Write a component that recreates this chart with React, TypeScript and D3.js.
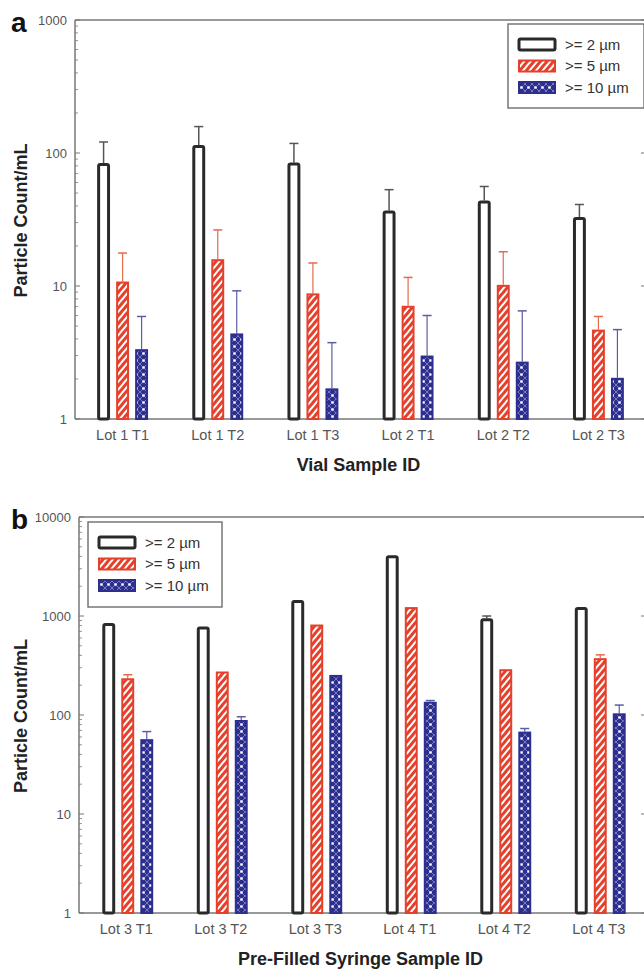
import React from 'react';
import * as d3 from 'd3';

// ---------- data ----------
const seriesKeys = ['ge2', 'ge5', 'ge10'];
const seriesLabels = ['>= 2 \u00b5m', '>= 5 \u00b5m', '>= 10 \u00b5m'];

const vialCategories = ['Lot 1 T1', 'Lot 1 T2', 'Lot 1 T3', 'Lot 2 T1', 'Lot 2 T2', 'Lot 2 T3'];
const vialGe2 = [84, 115, 85, 37, 44, 33];
const vialGe2Upper = [121, 158, 118, 53, 56, 41];
const vialGe5 = [10.8, 15.9, 8.8, 7.1, 10.2, 4.7];
const vialGe5Upper = [17.7, 26.4, 14.9, 11.6, 18.1, 5.9];
const vialGe10 = [3.35, 4.4, 1.7, 3.0, 2.7, 2.04];
const vialGe10Upper = [5.9, 9.2, 3.75, 6.0, 6.5, 4.7];
const vialTicks = [1, 10, 100, 1000];

const syrCategories = ['Lot 3 T1', 'Lot 3 T2', 'Lot 3 T3', 'Lot 4 T1', 'Lot 4 T2', 'Lot 4 T3'];
const syrGe2 = [850, 785, 1450, 4100, 950, 1230];
const syrGe2Upper = [850, 785, 1450, 4100, 1000, 1230];
const syrGe5 = [235, 275, 820, 1230, 290, 375];
const syrGe5Upper = [255, 275, 820, 1230, 290, 405];
const syrGe10 = [57, 89, 254, 136, 68, 104];
const syrGe10Upper = [68, 96, 254, 140, 73, 126];
const syrTicks = [1, 10, 100, 1000, 10000];

const RED = '#e4402b';
const BLUE = '#2d2f8e';
const DARK = '#2a2a2a';
const AXIS = '#777';
const FONT = 'Liberation Sans, Arial, Helvetica, sans-serif';

type PanelProps = {
  letter: string;
  cats: string[];
  means: number[][];
  uppers: number[][];
  ticks: number[];
  x0: number; x1: number; yTop: number; yBottom: number;
  xTitle: string;
  legend: { x: number; y: number; w: number; h: number };
  innerShift: number;
};

function Swatch({ k, x, y, w, h }: { k: string; x: number; y: number; w: number; h: number }) {
  if (k === 'ge2') return <rect x={x} y={y} width={w} height={h} fill="#fff" stroke={DARK} strokeWidth={3} rx={1.5} />;
  if (k === 'ge5') return <rect x={x} y={y} width={w} height={h} fill="url(#hatchRed)" stroke={RED} strokeWidth={2} />;
  return <rect x={x} y={y} width={w} height={h} fill="url(#dotBlue)" stroke={BLUE} strokeWidth={2} />;
}

function Panel(p: PanelProps) {
  const y = d3.scaleLog().domain([p.ticks[0], p.ticks[p.ticks.length - 1]]).range([p.yBottom, p.yTop]);
  const x = d3.scaleBand<string>().domain(p.cats).range([p.x0, p.x1]);
  const inner = d3.scaleBand<string>().domain(seriesKeys).range([-28.5, 28.5]).paddingInner(0.32).paddingOuter(0.16);
  const minor: number[] = [];
  for (let i = 0; i < p.ticks.length - 1; i++) for (let m = 2; m <= 9; m++) minor.push(p.ticks[i] * m);
  const midX = (p.x0 + p.x1) / 2 - 2;
  const midY = (p.yTop + p.yBottom) / 2 + 1;
  const lg = p.legend;
  return (
    <g>
      {/* frame */}
      <line x1={p.x0} x2={p.x1 + 2} y1={p.yTop} y2={p.yTop} stroke={AXIS} strokeWidth={1.5} />
      <line x1={p.x0} x2={p.x0} y1={p.yTop} y2={p.yBottom} stroke={AXIS} strokeWidth={1.5} />
      <line x1={p.x0} x2={p.x1 + 2} y1={p.yBottom} y2={p.yBottom} stroke={AXIS} strokeWidth={1.5} />
      {p.ticks.map((t) => (
        <g key={'t' + t}>
          <line x1={p.x0} x2={p.x0 + 5} y1={y(t)} y2={y(t)} stroke={AXIS} strokeWidth={1} />
          <line x1={p.x1} x2={p.x1 - 5} y1={y(t)} y2={y(t)} stroke={AXIS} strokeWidth={1} />
          <text x={p.x0 - 8} y={y(t) + 4.5} textAnchor="end" fontSize={13} fill="#555" fontFamily={FONT}>{t}</text>
        </g>
      ))}
      {minor.map((t) => (
        <line key={'m' + t} x1={p.x0} x2={p.x0 + 3} y1={y(t)} y2={y(t)} stroke={AXIS} strokeWidth={0.8} />
      ))}
      {/* bars */}
      {p.cats.map((c, ci) => (
        <g key={c}>
          {seriesKeys.map((k, si) => {
            const v = p.means[si][ci];
            const up = p.uppers[si][ci];
            const bx = (x(c) as number) + x.bandwidth() / 2 + p.innerShift + (inner(k) as number);
            const bw = inner.bandwidth();
            const cx = bx + bw / 2;
            const errColor = si === 0 ? '#555' : si === 1 ? '#e36a4e' : '#5b5ca6';
            return (
              <g key={k}>
                {up > v && (
                  <g>
                    <line x1={cx} x2={cx} y1={y(v)} y2={y(up)} stroke={errColor} strokeWidth={si === 0 ? 1.5 : 1.2} />
                    <line x1={cx - 4.5} x2={cx + 4.5} y1={y(up)} y2={y(up)} stroke={errColor} strokeWidth={1.5} />
                  </g>
                )}
                {si === 0 && <rect x={bx + 1.5} y={y(v) + 1.5} width={bw - 3} height={p.yBottom - y(v) - 1.5} fill="#fff" stroke={DARK} strokeWidth={3} rx={1.5} />}
                {si === 1 && <rect x={bx + 1} y={y(v) + 1} width={bw - 2} height={p.yBottom - y(v) - 1} fill="url(#hatchRed)" stroke={RED} strokeWidth={2} />}
                {si === 2 && <rect x={bx + 1} y={y(v) + 1} width={bw - 2} height={p.yBottom - y(v) - 1} fill="url(#dotBlue)" stroke={BLUE} strokeWidth={2} />}
              </g>
            );
          })}
          <text x={(x(c) as number) + x.bandwidth() / 2} y={p.yBottom + 21} textAnchor="middle" fontSize={14.5} fill="#555" fontFamily={FONT}>{c}</text>
        </g>
      ))}
      {/* titles */}
      <text x={midX} y={p.yBottom + 52} textAnchor="middle" fontSize={18} fontWeight="bold" fill="#222" fontFamily={FONT}>{p.xTitle}</text>
      <text transform={`translate(27,${midY}) rotate(-90)`} textAnchor="middle" fontSize={18} fontWeight="bold" fill="#222" fontFamily={FONT}>Particle Count/mL</text>
      <text x={11} y={p.yTop + 12} fontSize={28} fontWeight="bold" fill="#111" fontFamily={FONT}>{p.letter}</text>
      {/* legend */}
      <rect x={lg.x} y={lg.y} width={lg.w} height={lg.h} fill="#fff" stroke="#777" strokeWidth={1.5} />
      {seriesKeys.map((k, i) => (
        <g key={'lg' + k}>
          <Swatch k={k} x={lg.x + 11} y={lg.y + 15 + i * 21.5} w={36} h={11} />
          <text x={lg.x + 57} y={lg.y + 25.5 + i * 21.5} fontSize={15} fill="#333" fontFamily={FONT}>{seriesLabels[i]}</text>
        </g>
      ))}
    </g>
  );
}

export default function App() {
  return (
    <svg width={644} height={973} style={{ position: 'absolute', left: 0, top: 0, background: '#fff' }}>
      <defs>
        <pattern id="hatchRed" patternUnits="userSpaceOnUse" width={5} height={5} patternTransform="rotate(40)">
          <rect width={5} height={5} fill={RED} />
          <rect x={0} y={0} width={2} height={5} fill="#fff" />
        </pattern>
        <pattern id="dotBlue" patternUnits="userSpaceOnUse" width={7} height={7}>
          <rect width={7} height={7} fill={BLUE} />
          <path d="M0,0 L7,7 M7,0 L0,7" stroke="#9a9ad8" strokeWidth={0.7} />
          <circle cx={3.5} cy={3.5} r={1.3} fill="#fff" />
        </pattern>
      </defs>
      <Panel
        letter="a"
        cats={vialCategories}
        means={[vialGe2, vialGe5, vialGe10]}
        uppers={[vialGe2Upper, vialGe5Upper, vialGe10Upper]}
        ticks={vialTicks}
        x0={75} x1={646} yTop={20} yBottom={419}
        xTitle="Vial Sample ID"
        legend={{ x: 508, y: 24, w: 136, h: 84 }}
        innerShift={0}
      />
      <Panel
        letter="b"
        cats={syrCategories}
        means={[syrGe2, syrGe5, syrGe10]}
        uppers={[syrGe2Upper, syrGe5Upper, syrGe10Upper]}
        ticks={syrTicks}
        x0={79} x1={646} yTop={517} yBottom={913}
        xTitle="Pre-Filled Syringe Sample ID"
        legend={{ x: 88, y: 522, w: 134, h: 85 }}
        innerShift={1.5}
      />
    </svg>
  );
}
